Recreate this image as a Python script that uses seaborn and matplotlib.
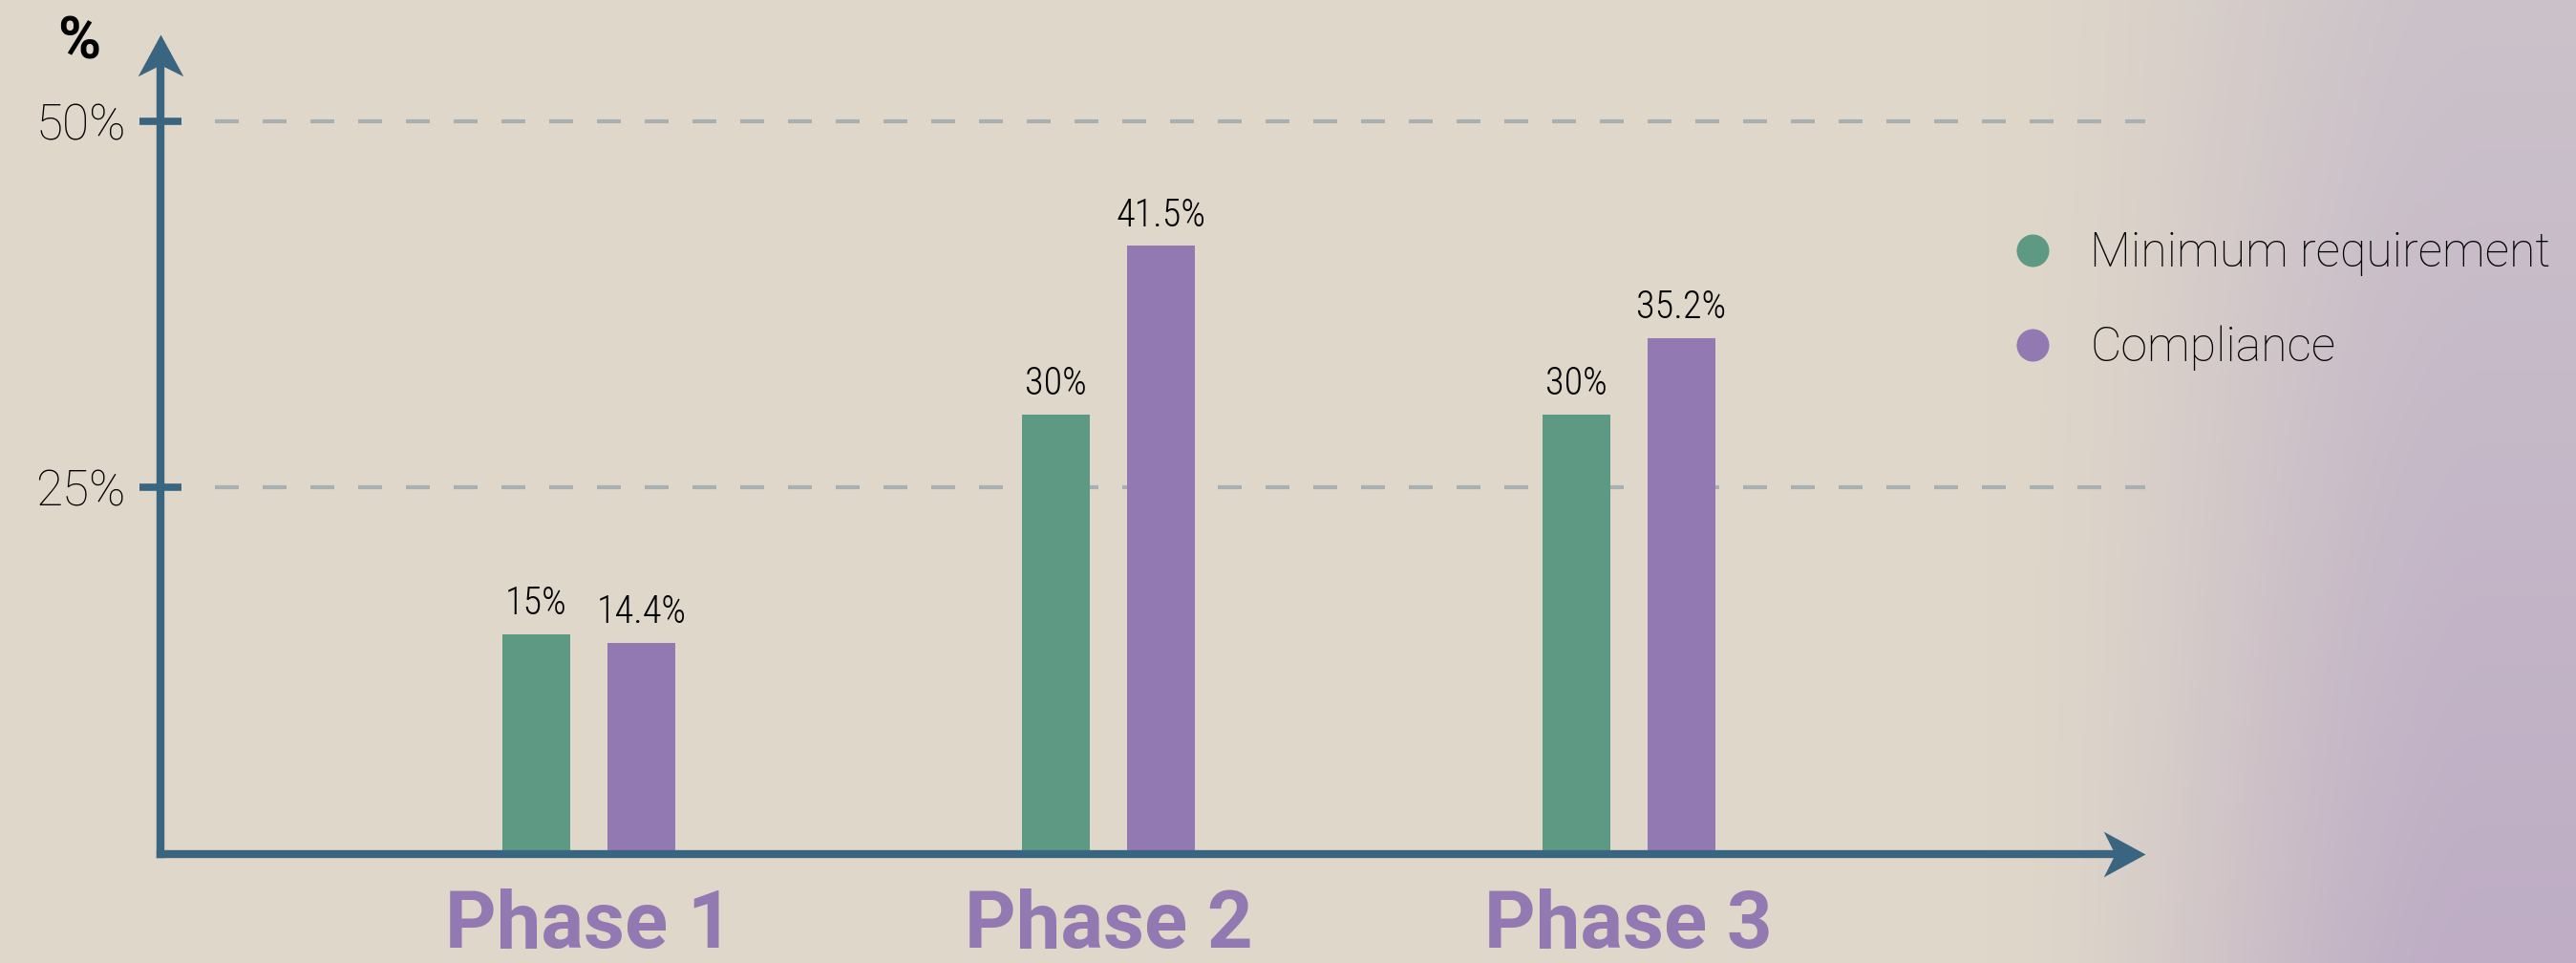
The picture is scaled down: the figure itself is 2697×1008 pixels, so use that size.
import numpy as np
import pandas as pd
import matplotlib
matplotlib.use("Agg")
import matplotlib.pyplot as plt
import seaborn as sns
from matplotlib.lines import Line2D
from matplotlib.path import Path

# ---------------- data ----------------
phases = ["Phase 1", "Phase 2", "Phase 3"]
series_names = ["Minimum requirement", "Compliance"]
minimum_requirement = [15, 30, 30]
compliance = [14.4, 41.5, 35.2]
y_ticks = [25, 50]
y_tick_labels = ["25%", "50%"]
y_axis_title = "%"

df = pd.DataFrame({
    "phase": phases * 2,
    "series": [series_names[0]] * len(phases) + [series_names[1]] * len(phases),
    "value": minimum_requirement + compliance,
})

# ---------------- style ----------------
W, H, DPI = 2697, 1008, 100
GREEN = "#5e9a83"
PURPLE = "#9279b1"
AXIS = "#3a6580"
GRID = "#a9b0b2"

sns.set_theme(style="white")
plt.rcParams["font.family"] = ["Roboto", "DejaVu Sans"]

fig = plt.figure(figsize=(W / DPI, H / DPI), dpi=DPI)

# background: beige fading into a lilac haze on the right
bg = fig.add_axes([0, 0, 1, 1], zorder=-5)
px = np.arange(W)
py = np.linspace(0, 1, H)
X, Y = np.meshgrid(px, py)
s = np.clip((X - 2080) / (2600 - 2080), 0, 1)
t = s * s * (3 - 2 * s)
beige = np.array([223, 215, 202]) / 255
lilac_top = np.array([203, 194, 202]) / 255
lilac_bot = np.array([190, 173, 197]) / 255
lilac = lilac_top * (1 - Y[..., None]) + lilac_bot * Y[..., None]
img = beige * (1 - t[..., None]) + lilac * t[..., None]
bg.imshow(img, aspect="auto", extent=[0, 1, 0, 1], origin="upper")
bg.axis("off")

# main axes, placed in pixels
x_left, x_right, y_top, y_bottom = 168, 2246, 36, 894
ax = fig.add_axes([x_left / W, (H - y_bottom) / H,
                   (x_right - x_left) / W, (y_bottom - y_top) / H])
ax.patch.set_alpha(0)

sns.barplot(data=df, x="phase", y="value", hue="series", order=phases,
            hue_order=series_names, palette=[GREEN, PURPLE], saturation=1,
            width=0.404, gap=0.354, legend=False, ax=ax, zorder=2,
            linewidth=0, edgecolor="none")

ax.set_xlim(-0.8235, 2.993)
ax.set_ylim(0, 55.9)
ax.set_xlabel("")
ax.set_ylabel("")

# gridlines
for yv in y_ticks:
    ax.axhline(yv, xmin=(225 - x_left) / (x_right - x_left), xmax=1.0,
               color=GRID, lw=3, ls=(0, (6, 6)), zorder=0.5)

# spines with arrowheads
for s_ in ["top", "right"]:
    ax.spines[s_].set_visible(False)
for s_ in ["left", "bottom"]:
    ax.spines[s_].set_color(AXIS)
    ax.spines[s_].set_linewidth(6)
    ax.spines[s_].set_capstyle("projecting")
ax.spines["left"].set_bounds(0, 55.9 - 1.5)
ax.spines["bottom"].set_bounds(-0.8235, 2.993 - 0.04)

right_arrow = Path([(0, 0), (-1, 0.545), (-0.727, 0), (-1, -0.545), (0, 0)],
                   [Path.MOVETO, Path.LINETO, Path.LINETO, Path.LINETO, Path.CLOSEPOLY])
up_arrow = Path([(0, 0), (0.545, -1), (0, -0.727), (-0.545, -1), (0, 0)],
                [Path.MOVETO, Path.LINETO, Path.LINETO, Path.LINETO, Path.CLOSEPOLY])
ax.plot([1], [0], marker=right_arrow, markersize=63, color=AXIS, mew=0,
        transform=ax.transAxes, clip_on=False, zorder=5)
ax.plot([0], [1], marker=up_arrow, markersize=63, color=AXIS, mew=0,
        transform=ax.transAxes, clip_on=False, zorder=5)

# ticks
ax.set_yticks(y_ticks, y_tick_labels)
ax.tick_params(axis="y", direction="inout", length=32, width=5.5, color=AXIS,
               pad=10, labelsize=37, labelcolor="black", left=True)
for lab in ax.get_yticklabels():
    lab.set_fontweight("light")
ax.set_xticks(range(len(phases)), phases)
ax.tick_params(axis="x", length=0, pad=26, labelsize=60, labelcolor=PURPLE)
for lab in ax.get_xticklabels():
    lab.set_fontweight("bold")

# value labels
for cont in ax.containers:
    ax.bar_label(cont, labels=[f"{v:g}%" for v in cont.datavalues],
                 padding=9, fontsize=29, fontweight="light",
                 family=["Roboto Condensed", "DejaVu Sans"], color="black")

# y axis title
fig.text(83 / W, 1 - 45 / H, y_axis_title, ha="center", va="center",
         fontsize=44, fontweight="bold", color="black")

# legend
handles = [Line2D([], [], marker="o", linestyle="", markersize=24.5, color=c, mew=0)
           for c in [GREEN, PURPLE]]
fig.legend(handles, series_names, loc="center left",
           bbox_to_anchor=(2103 / W, 1 - 315 / H), frameon=False,
           handlelength=1.0, handletextpad=0.7, labelspacing=1.04,
           borderpad=0, borderaxespad=0, labelcolor="black",
           prop={"weight": "light", "size": 36})

fig.savefig("out.png", dpi=DPI)
